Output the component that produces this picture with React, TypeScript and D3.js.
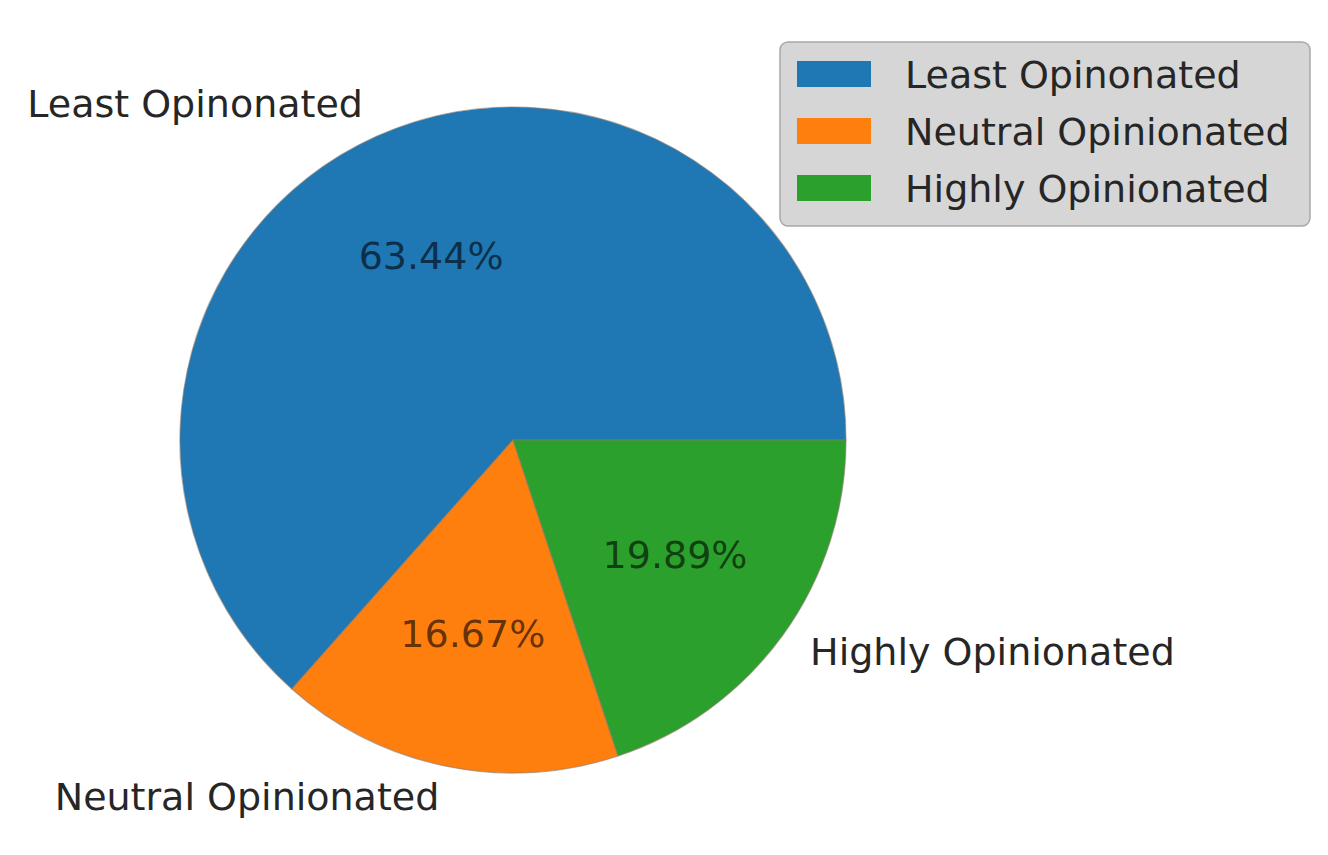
import React from "react";
import * as d3 from "d3";

const categories = ["Least Opinonated", "Neutral Opinionated", "Highly Opinionated"];
const legendLabels = ["Least Opinonated", "Neutral Opinionated", "Highly Opinionated"];
const values = [63.44, 16.67, 19.89];
const colors = ["#1f77b4", "#ff7f0e", "#2ca02c"];

const W = 1328;
const H = 855;
const cx = 513;
const cy = 440;
const R = 333;
const FONT = "'DejaVu Sans', sans-serif";
const FS = 38;

export default function App() {
  const data = categories.map((c, i) => ({ name: c, value: values[i], color: colors[i] }));
  const pie = d3
    .pie<any>()
    .sort(null)
    .value((d: any) => d.value)
    .startAngle(Math.PI / 2)
    .endAngle(Math.PI / 2 - 2 * Math.PI);
  const arcs = pie(data);
  const arc = d3.arc<any>().innerRadius(0).outerRadius(R);
  const labelArc = d3.arc<any>().innerRadius(R * 1.1).outerRadius(R * 1.1);
  const pctArc = d3.arc<any>().innerRadius(R * 0.6).outerRadius(R * 0.6);
  const total = d3.sum(values);

  const legX = 780, legY = 42, legW = 530, legH = 184;
  const rowStep = 57;

  return (
    <svg
      width={W}
      height={H}
      style={{ position: "absolute", left: 0, top: 0, background: "#fff" }}
      fontFamily={FONT}
    >
      <g transform={`translate(${cx},${cy})`}>
        {arcs.map((a, i) => (
          <path
            key={i}
            d={arc(a) as string}
            fill={a.data.color}
            stroke="#8a7a6a"
            strokeOpacity={0.6}
            strokeWidth={1.2}
          />
        ))}
        {arcs.map((a, i) => {
          const [x, y] = labelArc.centroid(a);
          return (
            <text
              key={"l" + i}
              x={x}
              y={y}
              dy="0.29em"
              textAnchor={x >= 0 ? "start" : "end"}
              fontSize={FS}
              fill="#262626"
            >
              {a.data.name}
            </text>
          );
        })}
        {arcs.map((a, i) => {
          const [x, y] = pctArc.centroid(a);
          return (
            <text
              key={"p" + i}
              x={x}
              y={y}
              dy="0.29em"
              textAnchor="middle"
              fontSize={FS}
              fill="#000"
              fillOpacity={0.62}
            >
              {((a.data.value / total) * 100).toFixed(2) + "%"}
            </text>
          );
        })}
      </g>
      <g>
        <rect
          x={legX}
          y={legY}
          width={legW}
          height={legH}
          rx={8}
          ry={8}
          fill="#d6d6d6"
          stroke="#a8a8a8"
          strokeWidth={1.5}
        />
        {legendLabels.map((l, i) => (
          <g key={"lg" + i} transform={`translate(${legX + 17},${legY + 32 + i * rowStep})`}>
            <rect x={0} y={-13} width={74} height={26} fill={colors[i]} />
            <text x={108} y={0} dy="0.36em" fontSize={FS} fill="#262626">
              {l}
            </text>
          </g>
        ))}
      </g>
    </svg>
  );
}
